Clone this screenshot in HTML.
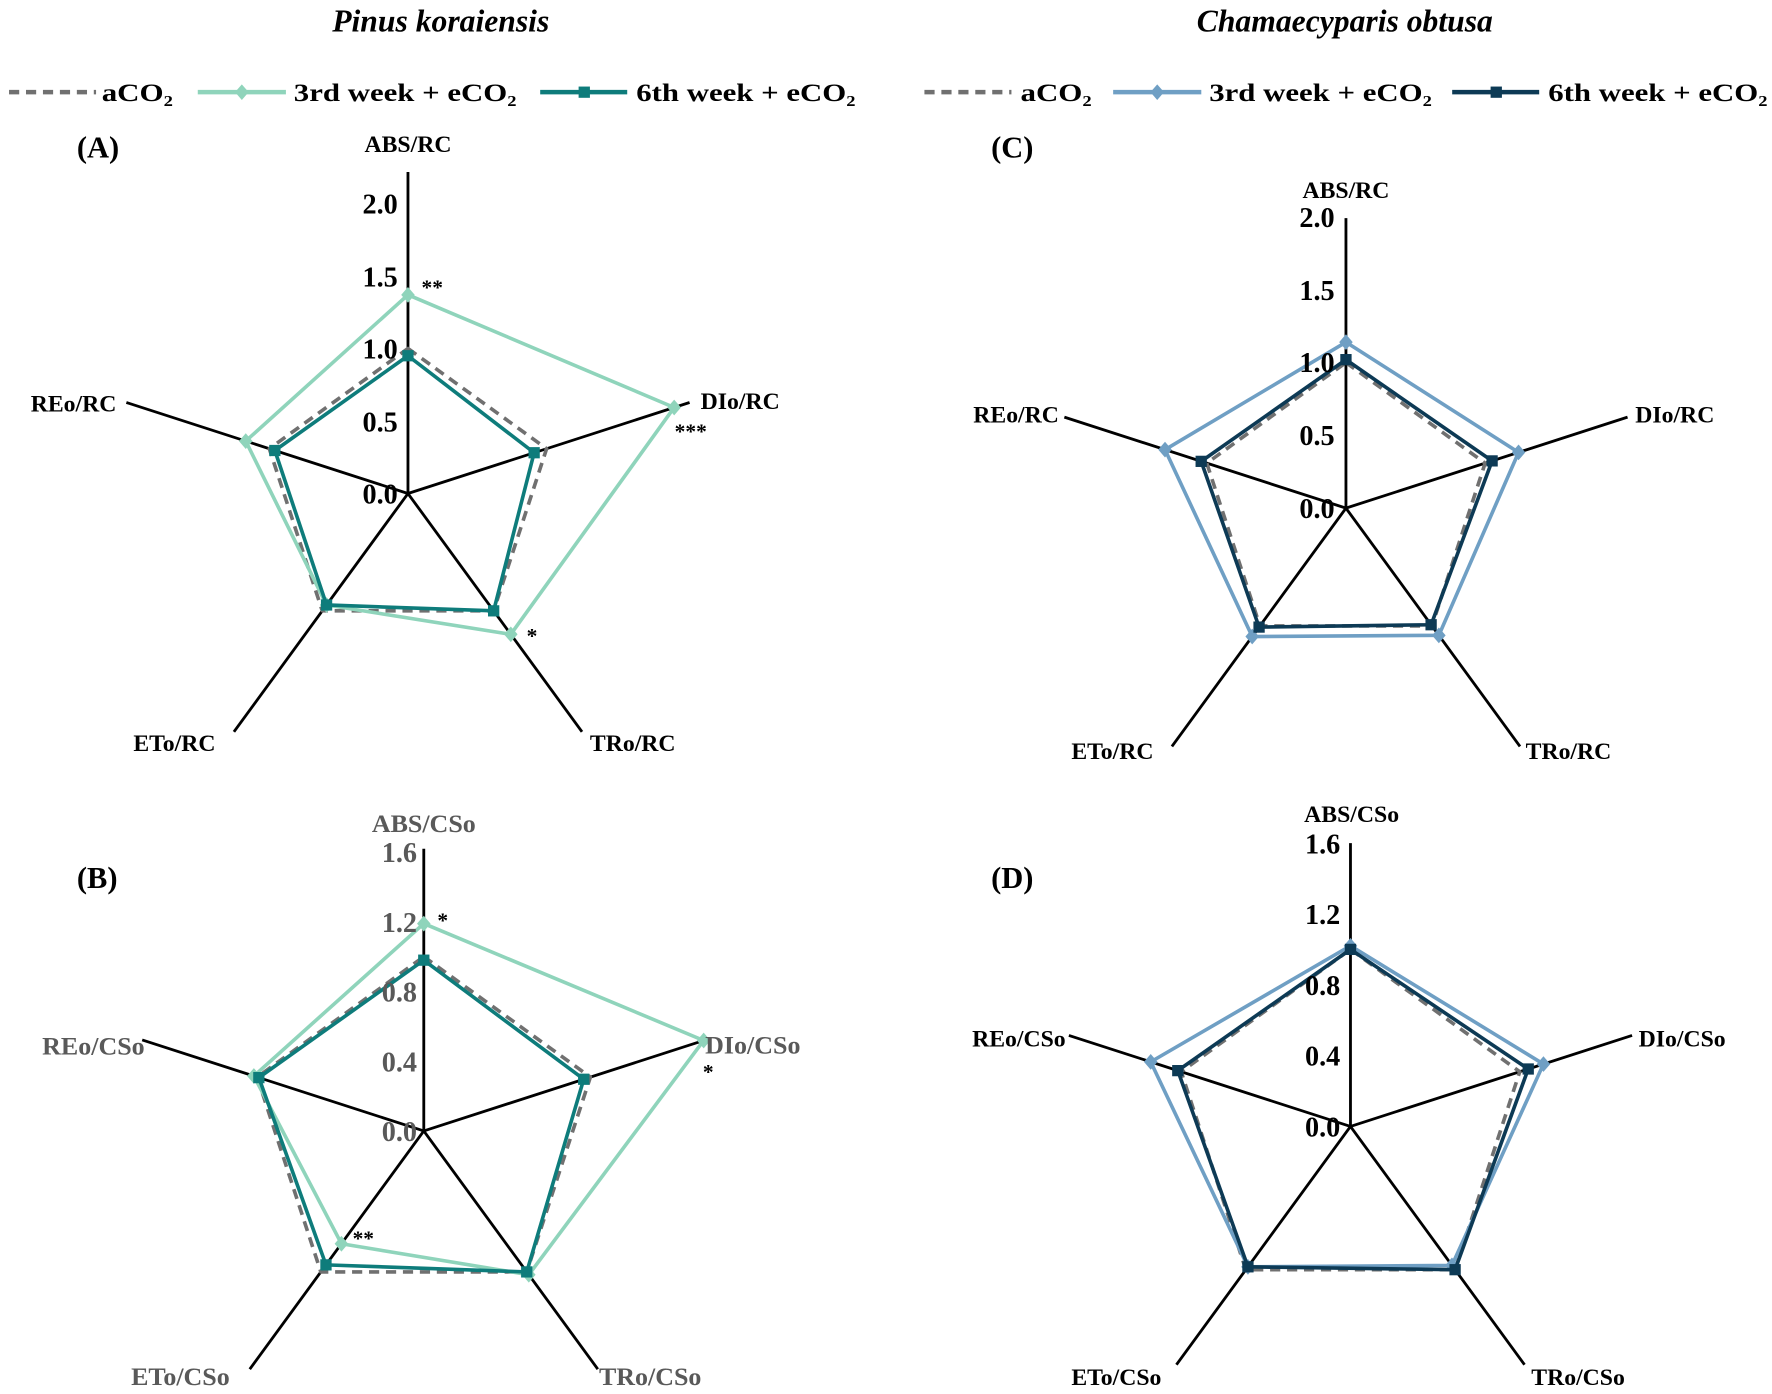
<!DOCTYPE html>
<html><head><meta charset="utf-8"><style>
html,body{margin:0;padding:0;background:#fff}
svg{display:block}
text{font-family:"Liberation Serif",serif;font-weight:bold}
</style></head><body>
<svg id="s" width="1772" height="1394" viewBox="0 0 1568 1240" preserveAspectRatio="none" xmlns="http://www.w3.org/2000/svg">
<rect width="1568" height="1240" fill="#fff"/>
<g font-style="italic" font-size="28" text-anchor="middle">
<text x="390" y="28">Pinus koraiensis</text>
<text x="1190" y="28">Chamaecyparis obtusa</text>
</g>
<!-- legends -->
<g stroke-width="4" fill="none">
<line x1="8" y1="82" x2="85" y2="82" stroke="#707070" stroke-dasharray="9,6"/>
<line x1="175" y1="82" x2="253" y2="82" stroke="#8fd4bb"/>
<line x1="478" y1="82" x2="555" y2="82" stroke="#0e7c7b"/>
<line x1="818" y1="82" x2="895" y2="82" stroke="#707070" stroke-dasharray="9,6"/>
<line x1="985" y1="82" x2="1063" y2="82" stroke="#6f9fc4"/>
<line x1="1285" y1="82" x2="1362" y2="82" stroke="#0d3a55"/>
</g>
<path d="M214 75 L220 82 L214 89 L208 82Z" fill="#8fd4bb"/>
<rect x="512" y="77" width="10" height="10" fill="#0e7c7b"/>
<path d="M1024 75 L1030 82 L1024 89 L1018 82Z" fill="#6f9fc4"/>
<rect x="1319" y="77" width="10" height="10" fill="#0d3a55"/>
<g font-size="23">
<text x="90" y="90" textLength="63" lengthAdjust="spacingAndGlyphs">aCO₂</text>
<text x="260" y="90" textLength="197" lengthAdjust="spacingAndGlyphs">3rd week + eCO₂</text>
<text x="563" y="90" textLength="194" lengthAdjust="spacingAndGlyphs">6th week + eCO₂</text>
<text x="903" y="90" textLength="63" lengthAdjust="spacingAndGlyphs">aCO₂</text>
<text x="1070" y="90" textLength="197" lengthAdjust="spacingAndGlyphs">3rd week + eCO₂</text>
<text x="1370" y="90" textLength="194" lengthAdjust="spacingAndGlyphs">6th week + eCO₂</text>
</g>
<g font-size="27">
<text x="68" y="140">(A)</text><text x="877" y="140">(C)</text>
<text x="68" y="790">(B)</text><text x="877" y="790">(D)</text>
</g>
<g id="charts"></g>
<!-- axis labels -->
<g font-size="21">
<g text-anchor="middle"><text x="361" y="135">ABS/RC</text><text x="1191" y="176">ABS/RC</text></g>
<text x="620" y="364">DIo/RC</text>
<text x="103" y="366" text-anchor="end">REo/RC</text>
<text x="118" y="668">ETo/RC</text><text x="522" y="668">TRo/RC</text>
<text x="1447" y="376">DIo/RC</text>
<text x="937" y="376" text-anchor="end">REo/RC</text>
<text x="948" y="675">ETo/RC</text><text x="1350" y="675">TRo/RC</text>
<text x="1196" y="731" text-anchor="middle">ABS/CSo</text>
<text x="1450" y="931">DIo/CSo</text>
<text x="943" y="931" text-anchor="end">REo/CSo</text>
<text x="948" y="1232">ETo/CSo</text><text x="1355" y="1232">TRo/CSo</text>
</g>
<g font-size="23" fill="#595959">
<text x="375" y="740" text-anchor="middle">ABS/CSo</text>
<text x="624" y="937">DIo/CSo</text>
<text x="128" y="938" text-anchor="end">REo/CSo</text>
<text x="116" y="1232">ETo/CSo</text><text x="530" y="1232">TRo/CSo</text>
</g>
<g font-size="25" text-anchor="end">
<text x="352" y="448">0.0</text><text x="352" y="384">0.5</text><text x="352" y="319">1.0</text><text x="352" y="255">1.5</text><text x="352" y="190">2.0</text>
<text x="1181" y="461">0.0</text><text x="1181" y="396">0.5</text><text x="1181" y="331">1.0</text><text x="1181" y="267">1.5</text><text x="1181" y="202">2.0</text>
<text x="1186" y="1011">0.0</text><text x="1186" y="948">0.4</text><text x="1186" y="885">0.8</text><text x="1186" y="822">1.2</text><text x="1186" y="759">1.6</text>
<g fill="#595959"><text x="369" y="1015">0.0</text><text x="369" y="953">0.4</text><text x="369" y="891">0.8</text><text x="369" y="829">1.2</text><text x="369" y="767">1.6</text></g>
</g>
<g font-size="19" font-weight="normal">
<text x="373" y="262">**</text><text x="597" y="390">***</text><text x="466" y="572">*</text>
<text x="387" y="825">*</text><text x="622" y="960">*</text><text x="312" y="1108">**</text>
</g>
</svg>
<script>
var NS="http://www.w3.org/2000/svg",G=document.getElementById("charts");
function el(n,a){var e=document.createElementNS(NS,n);for(var k in a)e.setAttribute(k,a[k]);G.appendChild(e);return e;}
var ang=[-90,-18,54,126,198];
function pt(cx,cy,r,i){var a=ang[i]*Math.PI/180;return [cx+r*Math.cos(a),cy+r*Math.sin(a)];}
function chart(cx,cy,u,top,sp,c3,c6,d3,d6,shape3){
  for(var i=0;i<5;i++){var p=pt(cx,cy,i==0?top:sp,i);el("line",{x1:cx,y1:cy,x2:p[0],y2:p[1],stroke:"#000","stroke-width":2.5});}
  function poly(d,col,dash,mk){var s=[];for(var i=0;i<5;i++){var p=pt(cx,cy,d[i]*u,i);s.push(p.join(","));}
    var a={points:s.join(" "),fill:"none",stroke:col,"stroke-width":3.2,"stroke-linejoin":"round"};if(dash)a["stroke-dasharray"]="9,6";el("polygon",a);
    if(mk)for(var i=0;i<5;i++){var p=pt(cx,cy,d[i]*u,i);
      if(mk=="d")el("path",{d:"M"+p[0]+" "+(p[1]-7)+" l6 7 l-6 7 l-6 -7Z",fill:col});
      else el("rect",{x:p[0]-5,y:p[1]-5,width:10,height:10,fill:col});}}
  poly([1,1,1,1,1],"#707070",true,null);
  poly(d3,c3,false,"d");
  poly(d6,c6,false,"s");
}
chart(361,439,129,286,262,"#8fd4bb","#0e7c7b",[1.37,1.92,1.2,0.95,1.17],[0.95,0.91,1.0,0.95,0.96]);
chart(1191,452,129.5,258,262,"#6f9fc4","#0d3a55",[1.14,1.24,1.08,1.09,1.3],[1.02,1.05,0.99,1.01,1.04]);
chart(375,1006,155,251,262,"#8fd4bb","#0e7c7b",[1.19,1.68,1.02,0.8,1.02],[0.98,0.96,1.0,0.95,0.99]);
chart(1195,1002,157.5,252,262,"#6f9fc4","#0d3a55",[1.02,1.14,0.97,0.98,1.18],[1.0,1.05,1.0,0.98,1.02]);
</script>
</body></html>
